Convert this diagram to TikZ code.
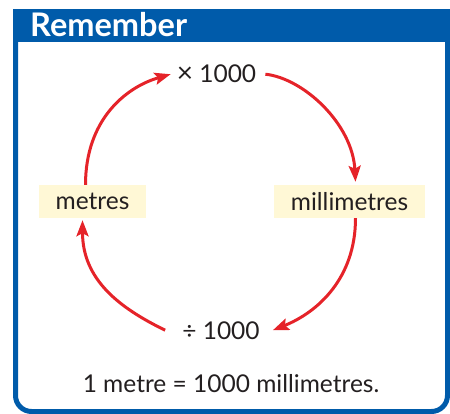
\documentclass[tikz,border=0pt]{standalone}
\usepackage{fontspec}
\setmainfont{Lato}
\usetikzlibrary{arrows.meta}
\definecolor{frameblue}{HTML}{005BAA}
\definecolor{arrred}{HTML}{E52329}
\definecolor{boxyellow}{HTML}{FFF8D6}
\definecolor{txt}{HTML}{231F20}
\begin{document}
\begin{tikzpicture}[x=1pt,y=-1pt,
  lbl/.style={font=\fontsize{24.5}{28}\selectfont, text=txt, inner sep=0pt},
  unitbox/.style={lbl, fill=boxyellow, minimum height=33pt},
  arr/.style={arrred, line width=3pt, -{Stealth[length=16pt,width=12pt,inset=3pt]}}]
\useasboundingbox (0,0) rectangle (450,414);
\fill[frameblue] (13,9) rectangle (450,42);
\draw[frameblue, line width=5pt, rounded corners=16pt] (15.5,40) -- (15.5,411.5) -- (447.5,411.5) -- (447.5,40);
\node[anchor=base west, font=\fontsize{32.5}{34}\selectfont\bfseries, text=white, inner sep=0pt] (title) at (30,36.5) {Remember};
\node[unitbox, minimum width=107pt] (m) at (92.5,201.5) {metres};
\node[unitbox, minimum width=151pt] (mm) at (349.5,201.5) {millimetres};
\node[lbl, anchor=base] (mul) at (216.5,83) {{\fontsize{28}{28}\selectfont×} 1000};
\node[lbl, anchor=base] (div) at (221,339) {÷ 1000};
\node[lbl, anchor=base] (eq) at (231,392) {1 metre = 1000 millimetres.};
\draw[arr] ([xshift=-7pt]m.north) .. controls +(0,-65) and +(-45,13) .. ([xshift=-6pt]mul.west);
\draw[arr] ([xshift=9pt]mul.east) .. controls +(38,4) and +(-3,-58) .. ([xshift=6pt,yshift=3pt]mm.north);
\draw[arr] ([xshift=6pt]mm.south) .. controls +(0,60) and +(45,-18) .. ([xshift=13pt]div.east);
\draw[arr] ([xshift=-17pt]div.west) .. controls +(-45,-22) and +(0,60) .. ([xshift=-10pt,yshift=-2pt]m.south);
\end{tikzpicture}
\end{document}
